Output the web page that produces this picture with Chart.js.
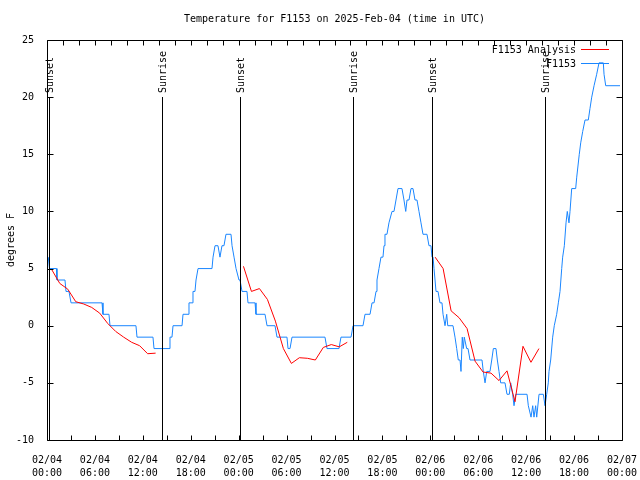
<!DOCTYPE html>
<html>
<head>
<meta charset="utf-8">
<title>Temperature for F1153</title>
<script src="https://cdn.jsdelivr.net/npm/chart.js@4/dist/chart.umd.min.js"></script>
<style>
  html, body { margin: 0; padding: 0; background: #fff; }
</style>
</head>
<body>
<canvas id="chart" width="640" height="480"></canvas>
<script>
// hours since 2025-02-04 00:00 UTC
const xTickHours = [0, 6, 12, 18, 24, 30, 36, 42, 48, 54, 60, 66, 72];
const xTickDates = ['02/04', '02/04', '02/04', '02/04', '02/05', '02/05', '02/05', '02/05', '02/06', '02/06', '02/06', '02/06', '02/07'];
const xTickTimes = ['00:00', '06:00', '12:00', '18:00', '00:00', '06:00', '12:00', '18:00', '00:00', '06:00', '12:00', '18:00', '00:00'];

const sunLabels = ['Sunset', 'Sunrise', 'Sunset', 'Sunrise', 'Sunset', 'Sunrise'];
const sunHours = [0.25, 14.4, 24.17, 38.32, 48.21, 62.36];

// F1153 Analysis (red), null = gap
const anaHours = [0.6, 1.6, 2.6, 3.6, 4.6, 5.6, 6.6, 7.6, 8.6, 9.6, 10.6, 11.6, 12.6, 13.6, 14.1,
  24.6, 25.6, 26.6, 27.6, 28.6, 29.6, 30.6, 31.6, 32.6, 33.6, 34.6, 35.6, 36.6, 37.6, 38.1,
  48.6, 49.6, 50.6, 51.6, 52.6, 53.6, 54.6, 55.6, 56.6, 57.6, 58.6, 59.6, 60.6, 61.6];
const anaTemps = [4.9, 3.7, 3.2, 2.1, 1.9, 1.6, 1.1, 0.2, -0.5, -1.0, -1.45, -1.75, -2.45, -2.4, null,
  5.2, 3.0, 3.25, 2.3, 0.4, -2.0, -3.3, -2.8, -2.85, -3.0, -1.9, -1.65, -1.85, -1.45, null,
  6.0, 5.0, 1.3, 0.7, -0.25, -3.1, -4.05, -4.15, -4.8, -3.95, -6.65, -1.8, -3.2, -2.0];

// F1153 observations (blue)
const obsHours = [0.16, 0.31, 1.19, 1.25, 2.25, 2.38, 2.75, 3.01, 6.89, 7.01, 7.76, 7.89, 11.14, 11.27, 13.27, 13.40,
  15.28, 15.40, 15.65, 15.78, 16.91, 17.03, 17.66, 17.78, 18.16, 18.28, 18.53, 18.66, 18.78, 18.91, 20.66, 20.79,
  20.91, 21.04, 21.41, 21.66, 21.91, 22.16, 22.41, 23.04, 23.17, 23.42, 23.67, 23.79, 24.04, 24.17, 24.42, 25.04,
  25.17, 26.05, 26.17, 27.30, 27.55, 28.55, 28.80, 30.05, 30.18, 30.43, 30.68, 34.81, 35.06, 36.56, 36.81, 38.07,
  38.32, 39.57, 39.82, 40.45, 40.70, 40.95, 41.20, 41.32, 41.57, 41.82, 42.07, 42.20, 42.32, 42.57, 42.82, 43.20,
  43.45, 43.70, 43.95, 44.45, 44.70, 44.92, 45.08, 45.33, 45.58, 45.83, 46.08, 46.33, 46.58, 46.83, 47.08, 47.58,
  47.83, 48.08, 48.21, 48.34, 48.46, 48.59, 48.71, 48.96, 49.21, 49.46, 49.59, 49.84, 50.05, 50.18, 50.84, 51.09,
  51.30, 51.50, 51.72, 51.84, 52.00, 52.13, 52.25, 52.55, 52.72, 52.97, 54.47, 54.63, 54.85, 55.06, 55.47, 55.69,
  55.89, 56.22, 56.39, 56.60, 56.81, 57.35, 57.60, 57.89, 58.06, 58.31, 58.48, 58.69, 60.11, 60.27, 60.61, 60.82,
  60.98, 61.19, 61.32, 61.61, 62.15, 62.36, 62.57, 62.77, 62.86, 63.07, 63.32, 63.52, 63.82, 64.03, 64.24, 64.45,
  64.57, 64.78, 64.99, 65.15, 65.36, 65.49, 65.70, 66.20, 66.33, 66.65, 66.83, 67.08, 67.37, 67.78, 67.99, 68.21,
  68.50, 68.83, 69.12, 69.66, 69.75, 69.96, 71.75];
const obsTemps = [6, 5, 5, 4, 4, 3, 3, 2, 2, 1, 1, 0, 0, -1, -1, -2,
  -2, -1, -1, 0, 0, 1, 1, 2, 2, 3, 3, 4, 4, 5, 5, 6,
  6, 7, 7, 6, 7, 7, 8, 8, 7, 6, 5, 5, 4, 4, 3, 3,
  2, 2, 1, 1, 0, 0, -1, -1, -2, -2, -1, -1, -2, -2, -1, -1,
  0, 0, 1, 1, 2, 2, 3, 4, 5, 6, 6, 7, 8, 8, 9, 10,
  10, 11, 12, 12, 11, 10, 11, 11, 12, 12, 11, 11, 10, 9, 8, 8,
  7, 7, 6, 6, 5, 4, 3, 3, 2, 2, 1, 0, 1, 0, 0, -1,
  -2, -3, -3, -4, -1, -2, -1, -2, -2, -3, -3, -4, -5, -4, -4, -3,
  -2, -2, -3, -4, -5, -5, -6, -6, -5, -6, -7, -6, -6, -7, -8, -7,
  -8, -7, -8, -6, -6, -7, -6, -5, -4, -3, -1, 0, 1, 2, 3, 5,
  6, 7, 9, 10, 9, 10, 12, 12, 13, 15, 16, 17, 18, 18, 19, 20,
  21, 22, 23, 23, 22, 21, 21];

const yTicks = [-10, -5, 0, 5, 10, 15, 20, 25];

Chart.defaults.font.family = '"DejaVu Sans Mono", "Liberation Mono", monospace';
Chart.defaults.font.size = 10;
Chart.defaults.color = '#000';

function pairs(xs, ys) {
  return xs.map((x, i) => ({ x: x, y: ys[i] }));
}

// gnuplot-like frame with inward ticks, sun lines and legend
const gnuFrame = {
  id: 'gnuFrame',
  afterDatasetsDraw(chart) {
    const { ctx, chartArea: a, scales: { x } } = chart;
    ctx.save();
    ctx.strokeStyle = '#000';
    ctx.fillStyle = '#000';
    ctx.lineWidth = 1;
    ctx.font = '10px "DejaVu Sans Mono"';
    sunHours.forEach((h, i) => {
      const px = Math.round(x.getPixelForValue(h)) + 0.5;
      ctx.beginPath();
      ctx.moveTo(px, a.top + 57);
      ctx.lineTo(px, a.bottom);
      ctx.stroke();
      ctx.save();
      ctx.translate(px + 1, a.top + 53);
      ctx.rotate(-Math.PI / 2);
      ctx.textAlign = 'left';
      ctx.textBaseline = 'middle';
      ctx.fillText(sunLabels[i], 0, 0);
      ctx.restore();
    });
    ctx.restore();
  },
  afterDraw(chart) {
    const { ctx, chartArea: a, scales: { x, y } } = chart;
    const L = a.left + 0.5, R = Math.round(a.right) + 0.5, T = a.top + 0.5, B = Math.round(a.bottom) + 0.5;
    ctx.save();
    ctx.strokeStyle = '#000';
    ctx.lineWidth = 1;
    ctx.beginPath();
    ctx.rect(L, T, R - L, B - T);
    x.ticks.forEach(t => {
      const px = Math.round(x.getPixelForValue(t.value)) + 0.5;
      ctx.moveTo(px, B); ctx.lineTo(px, B - 5);
    });
    for (let h = 0; h <= 72; h += 2) {
      const px = Math.round(x.getPixelForValue(h)) + 0.5;
      ctx.moveTo(px, T); ctx.lineTo(px, T + 5);
    }
    y.ticks.forEach(t => {
      const py = Math.round(y.getPixelForValue(t.value)) + 0.5;
      ctx.moveTo(L, py); ctx.lineTo(L + 6, py);
      ctx.moveTo(R, py); ctx.lineTo(R - 6, py);
    });
    ctx.stroke();

    // legend
    ctx.font = '10px "DejaVu Sans Mono"';
    ctx.textAlign = 'right';
    ctx.textBaseline = 'middle';
    chart.data.datasets.forEach((ds, i) => {
      const ly = a.top + 9 + i * 14;
      ctx.fillStyle = '#000';
      ctx.fillText(ds.label, a.right - 46, ly + 1);
      ctx.strokeStyle = ds.borderColor;
      ctx.beginPath();
      ctx.moveTo(a.right - 41, Math.round(ly) + 0.5);
      ctx.lineTo(a.right - 13, Math.round(ly) + 0.5);
      ctx.stroke();
    });
    ctx.restore();
  }
};

new Chart(document.getElementById('chart'), {
  type: 'line',
  data: {
    datasets: [
      {
        label: 'F1153 Analysis',
        data: pairs(anaHours, anaTemps),
        borderColor: '#ff0000',
        borderWidth: 1,
        pointRadius: 0,
        spanGaps: false
      },
      {
        label: 'F1153',
        data: pairs(obsHours, obsTemps),
        borderColor: '#1a86ff',
        borderWidth: 1,
        pointRadius: 0
      }
    ]
  },
  options: {
    responsive: false,
    animation: false,
    layout: { padding: { left: 0, right: 18, top: 0, bottom: 0 } },
    plugins: {
      legend: { display: false },
      tooltip: { enabled: false },
      title: {
        display: true,
        fullSize: false,
        text: 'Temperature for F1153 on 2025-Feb-04 (time in UTC)',
        font: { size: 10, weight: 'normal', lineHeight: 1.2 },
        color: '#000',
        padding: { top: 13, bottom: 15 }
      }
    },
    scales: {
      x: {
        type: 'linear',
        min: 0,
        max: 72,
        grid: { display: false },
        border: { display: false },
        afterFit(s) { s.height = 40; s.paddingLeft = 0; s.paddingRight = 0; },
        ticks: {
          stepSize: 3,
          autoSkip: false,
          maxRotation: 0,
          padding: 6,
          font: { size: 10, lineHeight: 1.3 },
          callback(v) {
            const i = xTickHours.indexOf(v);
            return i < 0 ? '' : [xTickDates[i], xTickTimes[i]];
          }
        }
      },
      y: {
        min: -10,
        max: 25,
        grid: { display: false },
        border: { display: false },
        afterFit(s) { s.width = 47; s.paddingTop = 0; s.paddingBottom = 0; },
        afterBuildTicks(s) { s.ticks = yTicks.map(v => ({ value: v })); },
        title: {
          display: true,
          text: 'degrees F',
          font: { size: 10, lineHeight: 1.2 },
          padding: { top: 5, bottom: 0 }
        },
        ticks: { padding: 5 }
      }
    }
  },
  plugins: [gnuFrame]
});
</script>
</body>
</html>
